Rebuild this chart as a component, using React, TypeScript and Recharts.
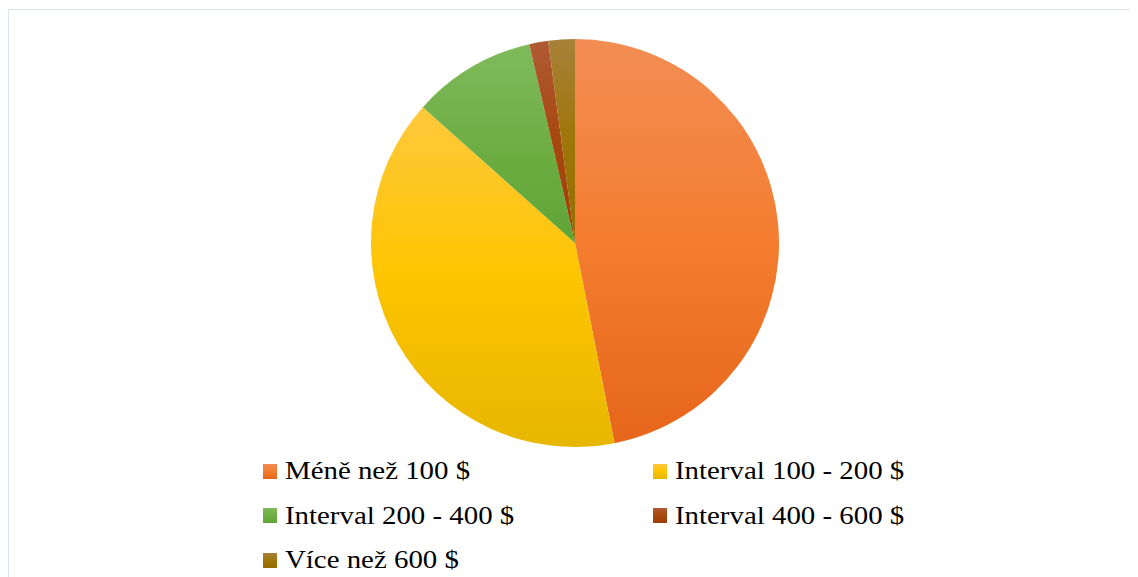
import { PieChart, Pie, Cell, Legend } from "recharts";

// spending brackets and their share of respondents (%)
const categories = [
  "Méně než 100 $",
  "Interval 100 - 200 $",
  "Interval 200 - 400 $",
  "Interval 400 - 600 $",
  "Více než 600 $",
];
const shares = [46.9, 39.7, 9.8, 1.5, 2.1];

// each slice fades from a light tint (top) through its base colour to a shade (bottom)
const topColors = ["#F28D53", "#FFC83C", "#80BB5C", "#B05A34", "#A8803A"];
const midColors = ["#F47D30", "#FDC500", "#6EAE44", "#A6480F", "#9F7608"];
const bottomColors = ["#E6661B", "#E7B600", "#5FA436", "#9C3E06", "#956D00"];

const data = categories.map((name, i) => ({ name, value: shares[i] }));

// legend keeps the series order (two columns, row by row)
function LegendGrid() {
  return (
    <div
      style={{
        display: "grid",
        gridTemplateColumns: "390px 300px",
        fontFamily: "'Liberation Serif', 'Times New Roman', serif",
        fontSize: 26,
        color: "#000",
      }}
    >
      {categories.map((name, i) => (
        <div key={name} style={{ display: "flex", alignItems: "center", height: 44.5 }}>
          <span
            style={{
              width: 14,
              height: 15,
              marginRight: 8,
              background: `linear-gradient(${topColors[i]}, ${midColors[i]}, ${bottomColors[i]})`,
              flexShrink: 0,
            }}
          />
          <span
            style={{
              lineHeight: "26px",
              whiteSpace: "nowrap",
              display: "inline-block",
              transform: "scaleX(1.11)",
              transformOrigin: "left center",
            }}
          >
            {name}
          </span>
        </div>
      ))}
    </div>
  );
}

export default function App() {
  return (
    <div
      style={{
        width: 1130,
        height: 568,
        marginTop: 1,
        borderTop: "1px solid #DCE2E9",
        borderLeft: "1px solid #DCE2E9",
        background: "#fff",
      }}
    >
      <PieChart width={1129} height={568} margin={{ top: 0, right: 0, bottom: 0, left: 0 }}>
        <defs>
          {categories.map((_, i) => (
            <linearGradient key={i} id={`slice-${i}`} x1="0" y1="0" x2="0" y2="1">
              <stop offset="0%" stopColor={topColors[i]} />
              <stop offset="50%" stopColor={midColors[i]} />
              <stop offset="100%" stopColor={bottomColors[i]} />
            </linearGradient>
          ))}
        </defs>
        <Pie
          data={data}
          dataKey="value"
          nameKey="name"
          cx={566}
          cy={233}
          outerRadius={204}
          startAngle={90}
          endAngle={-270}
          stroke="none"
          isAnimationActive={false}
        >
          {data.map((_, i) => (
            <Cell key={i} fill={`url(#slice-${i})`} />
          ))}
        </Pie>
        <Legend
          content={<LegendGrid />}
          wrapperStyle={{ position: "absolute", left: 254, top: 439, width: 700 }}
        />
      </PieChart>
    </div>
  );
}
